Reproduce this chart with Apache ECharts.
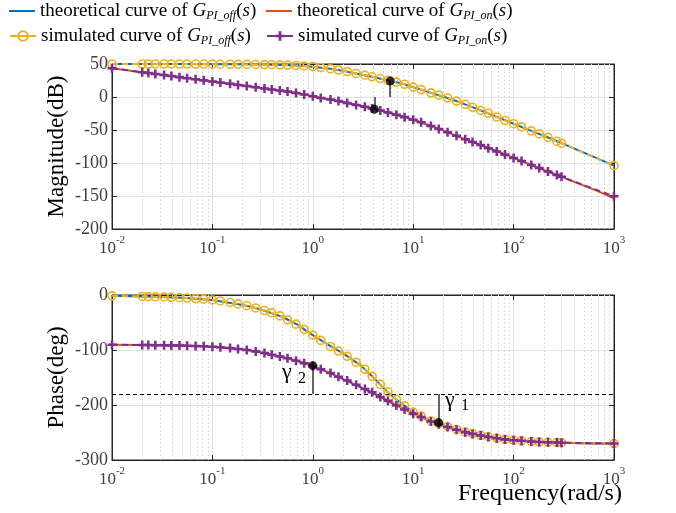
<!DOCTYPE html>
<html><head><meta charset="utf-8">
<script src="https://cdn.jsdelivr.net/npm/echarts@6/dist/echarts.min.js"></script>
<style>html,body{margin:0;padding:0;background:#fff}#c{width:676px;height:513px}</style>
</head><body><div id="c"></div>
<script>
// ---- data ----
const thFreq = [0.01,0.02,0.05,0.1,0.2,0.3,0.5,0.7,1,1.5,2,3,4,5,6,7,8,10,15,20,30,40,50,70,100,150,200,300,500,700,1000];
const offMagTh = [50,50,50,49.8,49.5,49.2,48.6,47.7,46,42.8,39.6,34.2,30.2,27,24.4,22,19.8,15,6.3,0.5,-8.8,-16.2,-22,-30.8,-40.5,-51.3,-58.7,-70,-84.2,-93.8,-104];
const onMagTh = [43.5,37.5,29.5,23.5,17.3,13.8,9,5.6,1,-3.8,-7.8,-13.4,-17.8,-21.4,-24.5,-27.3,-29.8,-34.6,-44,-51,-61.5,-68.8,-74.3,-83,-92.3,-103,-110.5,-121,-134.2,-143,-153.5];
const offPhTh = [-1.5,-2.6,-5,-9,-18,-26,-40,-54,-73,-93,-106,-128,-150,-168,-182,-192,-200,-213,-229,-237,-247,-252.5,-256,-260.5,-264,-266.5,-267.5,-268.5,-269.5,-269.8,-270];
const onPhTh = [-90.5,-91,-92,-94,-99,-104,-113,-120,-129,-142,-153,-168,-179,-188,-195.5,-202,-207,-216,-230,-238,-247.5,-253,-256.5,-260.5,-264,-266.5,-267.5,-268.5,-269.5,-269.8,-270];

const simFreq = [0.01,0.02,0.023,0.027,0.033,0.039,0.047,0.056,0.068,0.082,0.1,0.12,0.15,0.18,0.22,0.27,0.33,0.39,0.47,0.56,0.68,0.82,1,1.2,1.5,1.8,2.2,2.7,3.3,3.9,4.7,5.6,6.8,8.2,10,12,15,18,22,27,33,39,47,56,68,82,100,120,150,180,220,270,300,1000];
const offMagSim = [50,50,50,50,50,50,50,50,49.9,49.9,49.8,49.7,49.6,49.5,49.4,49.3,49.1,48.9,48.7,48.3,47.8,47,46,44.7,42.8,40.9,38.5,35.7,33,30.6,28,25.4,22.5,19.3,15,11.2,6.3,2.8,-1.5,-6.2,-11.1,-15.6,-20.4,-24.6,-30.3,-35.6,-40.5,-45.2,-51.3,-55.9,-61.2,-67,-70,-104];
const onMagSim = [43.5,37.5,36.3,34.9,33.2,31.7,30.1,28.5,26.8,25.2,23.5,21.9,20,18.3,16.5,14.8,13,11.5,9.9,8.2,6.1,3.7,1,-1.4,-3.8,-6.2,-9,-12,-14.9,-17.4,-20.3,-23.4,-27,-30.5,-34.6,-38.4,-44,-48.4,-53.3,-58.7,-63.9,-68.2,-72.8,-77.7,-82.5,-87.3,-92.3,-97,-103,-107.7,-112.8,-118,-121,-150.5];
const offPhSim = [-1.5,-2.6,-2.9,-3.2,-3.6,-4.1,-4.8,-5.5,-6.5,-7.6,-9,-10.8,-13.5,-16.2,-19.5,-23.5,-28.3,-32.5,-38,-45,-53,-62.5,-73,-82.5,-93.5,-102,-111.5,-122.5,-135,-148,-162.5,-176,-190,-201.5,-213,-220,-229,-234,-239,-244.5,-249,-252,-255,-257.5,-260.2,-262.3,-264,-265.2,-266.5,-267.2,-267.8,-268.3,-268.5,-270];
const onPhSim = [-90.5,-91,-91.1,-91.2,-91.5,-91.7,-91.9,-92.3,-92.8,-93.3,-94,-95,-96.5,-98,-100,-102.5,-105.5,-108.5,-112,-115,-119.5,-124,-129,-135,-142,-148.5,-155.5,-163,-171,-177,-185.5,-192.5,-201,-208,-216,-222,-230,-235,-240,-245,-249.5,-252.5,-255.5,-258,-260.5,-262.5,-264,-265.2,-266.5,-267.2,-267.8,-268.3,-268.5,-270];

// margin markers [frequency, value]
const gmOff = [5.9, 24.2];
const gmOn = [4.1, -18.6];
const pmOn = [1, -128.5];
const pmOff = [17.9, -232];
const phaseRef = -180;

const names = {
  thOff: 'theoretical curve of G_PI_off(s)',
  thOn: 'theoretical curve of G_PI_on(s)',
  simOff: 'simulated curve of G_PI_off(s)',
  simOn: 'simulated curve of G_PI_on(s)'
};
// ---- styling ----
const FONT = 'Liberation Serif';
const C = {blue:'#0072BD', orange:'#D95319', yellow:'#EDB120', purple:'#7E2F8E'};
const AX = '#262626';
const LBL = '#404040';
const PLUS = 'path://M3.6,0H6.4V3.6H10V6.4H6.4V10H3.6V6.4H0V3.6H3.6Z';

const pairs = (xs, ys) => xs.map((x, i) => [x, ys[i]]);

const minorX = [];
for (let e = -2; e <= 2; e++) for (let k = 2; k <= 9; k++) minorX.push({xAxis: Number((k * Math.pow(10, e)).toPrecision(2))});

function xFmt(v) { return '{b|10}{s|' + Math.round(Math.log10(v)) + '}'; }

function xBottom(gi) {
  return {type:'log', logBase:10, gridIndex:gi, min:0.01, max:1000,
    axisLine:{show:true, onZero:false, lineStyle:{color:AX, width:1}},
    axisTick:{show:true, inside:true, length:5, lineStyle:{color:AX}},
    axisLabel:{margin:6, formatter:xFmt, rich:{
      b:{fontFamily:FONT, fontSize:17, color:LBL, lineHeight:22, verticalAlign:'bottom'},
      s:{fontFamily:FONT, fontSize:11, color:LBL, lineHeight:12, verticalAlign:'top'}}},
    splitLine:{show:true, lineStyle:{color:'#e2e2e2', width:1}}};
}
function xTop(gi) {
  return {type:'log', logBase:10, gridIndex:gi, position:'top', min:0.01, max:1000,
    axisLine:{show:true, onZero:false, lineStyle:{color:AX, width:1}},
    axisTick:{show:true, inside:true, length:5, lineStyle:{color:AX}},
    axisLabel:{show:false}, splitLine:{show:false}};
}
function yLeft(gi, min, max, interval, name) {
  return {type:'value', gridIndex:gi, min, max, interval,
    axisLine:{show:true, onZero:false, lineStyle:{color:AX, width:1}},
    axisTick:{show:true, inside:true, length:5, lineStyle:{color:AX}},
    axisLabel:{margin:4, fontFamily:FONT, fontSize:18, color:LBL},
    splitLine:{show:true, lineStyle:{color:'#e2e2e2', width:1}},
    name, nameLocation:'middle', nameGap:44, nameMoveOverlap:false,
    nameTextStyle:{fontFamily:FONT, fontSize:23, color:'#000'}};
}
function yRight(gi, min, max, interval) {
  return {type:'value', gridIndex:gi, min, max, interval, position:'right',
    axisLine:{show:true, onZero:false, lineStyle:{color:AX, width:1}},
    axisTick:{show:true, inside:true, length:5, lineStyle:{color:AX}},
    axisLabel:{show:false}, splitLine:{show:false}};
}

function curves(gi, offTh, onTh, offSim, onSim, extraOrange) {
  const xi = gi * 2, yi = gi * 2;
  return [
    {name:names.thOff, type:'line', xAxisIndex:xi, yAxisIndex:yi, z:3, symbol:'none',
     data:pairs(thFreq, offTh), lineStyle:{color:C.blue, width:2}, itemStyle:{color:C.blue},
     markLine:{silent:true, symbol:'none', z:1, label:{show:false},
       lineStyle:{color:'#d2d2d2', type:[1.5,2.5], width:1}, data:minorX}},
    Object.assign({name:names.thOn, type:'line', xAxisIndex:xi, yAxisIndex:yi, z:3, symbol:'none',
     data:pairs(thFreq, onTh), lineStyle:{color:C.orange, width:2}, itemStyle:{color:C.orange}}, extraOrange || {}),
    {name:names.simOff, type:'line', xAxisIndex:xi, yAxisIndex:yi, z:4, symbol:'circle', symbolSize:8,
     data:pairs(simFreq, offSim), lineStyle:{color:C.yellow, width:2, type:[6,4]},
     itemStyle:{color:'rgba(0,0,0,0)', borderColor:C.yellow, borderWidth:1.6}},
    {name:names.simOn, type:'line', xAxisIndex:xi, yAxisIndex:yi, z:4, symbol:PLUS, symbolSize:9,
     data:pairs(simFreq, onSim), lineStyle:{color:C.purple, width:2, type:[6,4]},
     itemStyle:{color:C.purple}}
  ];
}

const legendRich = {
  i:{fontFamily:FONT, fontSize:19, fontStyle:'italic', color:'#000'},
  sub:{fontFamily:FONT, fontSize:12, fontStyle:'italic', color:'#000', lineHeight:10, verticalAlign:'bottom'},
  n:{fontFamily:FONT, fontSize:19, color:'#000'}
};
function legendFmt(name) {
  const m = name.match(/^(.*)G_(PI_\w+)\(s\)$/);
  return m[1] + '{i|G}{sub|' + m[2] + '}{n|(}{i|s}{n|)}';
}
function legend(name, left, top, plainLine) {
  const l = {data:[name], left, top, padding:0, itemWidth:26, itemHeight:12,
    textStyle:{fontFamily:FONT, fontSize:19, color:'#000', lineHeight:22, rich:legendRich},
    formatter:legendFmt, lineStyle:{type:'solid'}, selectedMode:false};
  if (plainLine) { l.icon = 'rect'; l.itemHeight = 2; }
  return l;
}

const option = {
  animation:false,
  backgroundColor:'#fff',
  legend:[legend(names.thOff, 9, 0, true), legend(names.thOn, 266, 0, true),
          legend(names.simOff, 9, 25), legend(names.simOn, 266, 25)],
  grid:[
    {left:112, top:64, width:502, height:165, show:true, borderColor:AX, borderWidth:1, backgroundColor:'#fff'},
    {left:112, top:295, width:502, height:165, show:true, borderColor:AX, borderWidth:1, backgroundColor:'#fff'}
  ],
  xAxis:[xBottom(0), xTop(0), xBottom(1), xTop(1)],
  yAxis:[yLeft(0, -200, 50, 50, 'Magnitude(dB)'), yRight(0, -200, 50, 50),
         yLeft(1, -300, 0, 100, 'Phase(deg)'), yRight(1, -300, 0, 100)],
  series:[
    ...curves(0, offMagTh, onMagTh, offMagSim, onMagSim),
    ...curves(1, offPhTh, onPhTh, offPhSim, onPhSim, {
      markLine:{silent:true, symbol:'none', z:2, label:{show:false},
        lineStyle:{color:'#000', type:[4,3], width:1}, data:[{yAxis:phaseRef}]}}),
    {type:'scatter', xAxisIndex:0, yAxisIndex:0, z:6, symbol:'circle', symbolSize:9,
     itemStyle:{color:'#000'}, data:[gmOff, gmOn],
     markLine:{silent:true, symbol:'none', z:6, label:{show:false}, lineStyle:{color:'#333', type:'solid', width:1.5},
       data:[[{coord:[gmOff[0], 0]}, {coord:gmOff}], [{coord:[gmOn[0], 0]}, {coord:gmOn}]]}},
    {type:'scatter', xAxisIndex:2, yAxisIndex:2, z:6, symbol:'circle', symbolSize:9,
     itemStyle:{color:'#000'}, data:[pmOn, pmOff],
     markLine:{silent:true, symbol:'none', z:6, label:{show:false}, lineStyle:{color:'#333', type:'solid', width:1.5},
       data:[[{coord:[pmOn[0], phaseRef]}, {coord:pmOn}], [{coord:[pmOff[0], phaseRef]}, {coord:pmOff}]]}}
  ],
  graphic:[
    {type:'text', left:282, top:361, z:10, style:{text:'γ', font:'22px "Liberation Serif"', fill:'#000'}},
    {type:'text', left:298, top:371, z:10, style:{text:'2', font:'16px "Liberation Serif"', fill:'#000'}},
    {type:'text', left:445, top:389, z:10, style:{text:'γ', font:'22px "Liberation Serif"', fill:'#000'}},
    {type:'text', left:461, top:398, z:10, style:{text:'1', font:'16px "Liberation Serif"', fill:'#000'}},
    {type:'text', left:458, top:482, z:10, style:{text:'Frequency(rad/s)', font:'24px "Liberation Serif"', fill:'#000'}}
  ]
};
const chart = echarts.init(document.getElementById('c'), null, {renderer:'canvas'});
chart.setOption(option);
</script></body></html>
